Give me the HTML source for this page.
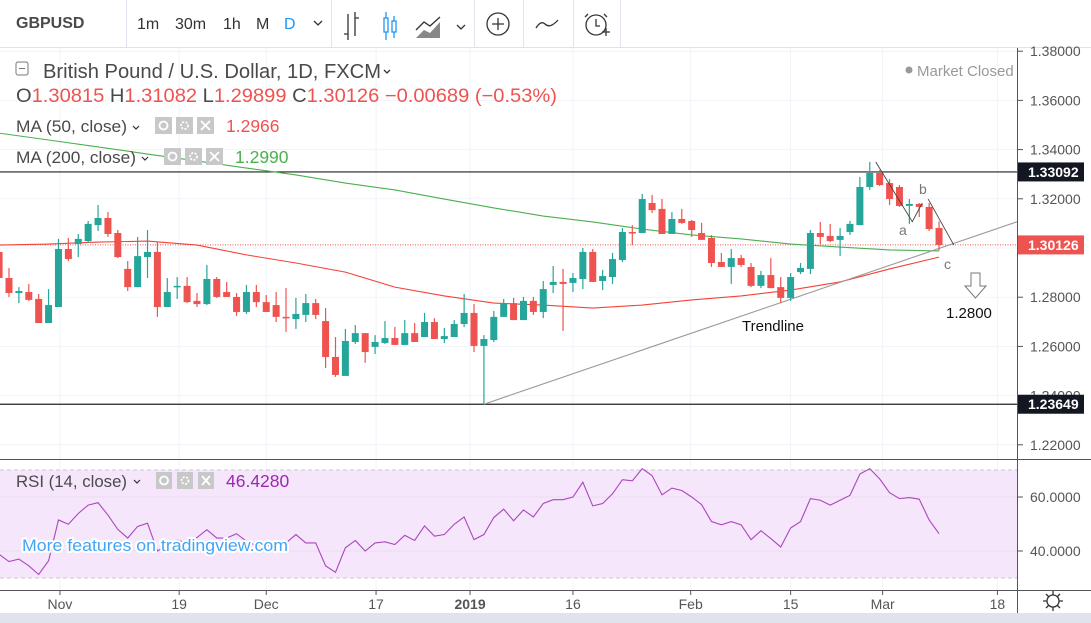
<!DOCTYPE html>
<html><head><meta charset="utf-8">
<style>
html,body{margin:0;padding:0;background:#fff;}
svg{display:block;font-family:"Liberation Sans",sans-serif;}
</style></head>
<body>
<svg id="chart" width="1091" height="623" viewBox="0 0 1091 623" xmlns="http://www.w3.org/2000/svg">
<rect x="0" y="0" width="1091" height="623" fill="#fff"/>
<g id="grid"></g>
<rect id="rsiBand" x="0" y="468" width="1017" height="110" fill="#f5e6fc"/>
<g id="rsiGrid"></g>
<g id="levels"></g>
<g id="mas"></g>
<g id="candles"></g>
<g id="annot"></g>
<g id="rsi"></g>

<g>
<line x1="0" y1="47.5" x2="1091" y2="47.5" stroke="#e0e3eb"/>
<text x="16" y="28" font-size="16" font-weight="bold" fill="#4a4a4a">GBPUSD</text>
<line x1="126.5" y1="0" x2="126.5" y2="47" stroke="#e0e3eb"/>
<text x="137" y="29" font-size="16" fill="#333">1m</text>
<text x="175" y="29" font-size="16" fill="#333">30m</text>
<text x="223" y="29" font-size="16" fill="#333">1h</text>
<text x="256" y="29" font-size="16" fill="#333">M</text>
<text x="284" y="29" font-size="16" fill="#2196f3">D</text>
<path d="M314 21 l4 4 l4 -4" fill="none" stroke="#333" stroke-width="1.3"/>
<line x1="331.5" y1="0" x2="331.5" y2="47" stroke="#e0e3eb"/>
<g stroke="#333" stroke-width="1.3" fill="none"><path d="M348 14 v26 M344 34 h4 M355 12 v24 M355 18 h4"/></g>
<g stroke="#2196f3" stroke-width="1.3" fill="none"><path d="M386 12 v28 M394 16 v22"/><rect x="384" y="18" width="4" height="14" fill="#fff"/><rect x="392" y="21" width="4" height="11" fill="#fff"/></g>
<g><path d="M416 38 L424 30 L430 33 L440 22 L440 38 Z" fill="#888"/><path d="M416 30 L424 22 L430 26 L440 17" fill="none" stroke="#333" stroke-width="1.3"/></g>
<path d="M457 25 l4 4 l4 -4" fill="none" stroke="#333" stroke-width="1.3"/>
<line x1="474.5" y1="0" x2="474.5" y2="47" stroke="#e0e3eb"/>
<g><circle cx="498" cy="24" r="11" fill="none" stroke="#333" stroke-width="1.3"/><path d="M498 18 v12 M492 24 h12" stroke="#333" stroke-width="1.3"/></g>
<line x1="523.5" y1="0" x2="523.5" y2="47" stroke="#e0e3eb"/>
<path d="M536 28 Q541 20 545 24 Q550 29 558 20" fill="none" stroke="#333" stroke-width="1.3"/>
<line x1="573.5" y1="0" x2="573.5" y2="47" stroke="#e0e3eb"/>
<g fill="none" stroke="#333" stroke-width="1.3"><circle cx="596" cy="25" r="10"/><path d="M596 19 v7 h4 M588 14 l-3 3 M604 14 l3 3 M602 32 h8 M606 28 v8"/></g>
<line x1="620.5" y1="0" x2="620.5" y2="47" stroke="#e0e3eb"/>
</g>

<g>
<rect x="16" y="62" width="12" height="13" rx="2" fill="#fff" stroke="#777"/>
<line x1="19" y1="68.5" x2="25" y2="68.5" stroke="#777"/>
<text x="43" y="78" font-size="20" fill="#4a4a4a" textLength="338" lengthAdjust="spacingAndGlyphs">British Pound / U.S. Dollar, 1D, FXCM</text>
<path d="M384 70 l3 3 l3 -3" fill="none" stroke="#333" stroke-width="1.3"/>
<text x="16" y="102" font-size="19.5" fill="#4a4a4a" textLength="541" lengthAdjust="spacingAndGlyphs">O<tspan fill="#ef5350">1.30815</tspan>  H<tspan fill="#ef5350">1.31082</tspan>  L<tspan fill="#ef5350">1.29899</tspan>  C<tspan fill="#ef5350">1.30126</tspan>  <tspan fill="#ef5350">−0.00689 (−0.53%)</tspan></text>
<text x="16" y="132" font-size="17" fill="#4a4a4a" textLength="111" lengthAdjust="spacingAndGlyphs">MA (50, close)</text>
<path d="M133 126 l3 3 l3 -3" fill="none" stroke="#333" stroke-width="1.2"/>
<g fill="#c8c8c8"><rect x="155" y="117" width="17" height="17"/><rect x="176" y="117" width="17" height="17"/><rect x="197" y="117" width="17" height="17"/></g>
<g fill="none" stroke="#fff" stroke-width="1.8"><circle cx="163.5" cy="125.5" r="4"/><circle cx="184.5" cy="125.5" r="3.5" stroke-dasharray="2 1.5"/><path d="M201 121 l9 9 M210 121 l-9 9"/></g>
<text x="226" y="132" font-size="17.5" fill="#ef5350">1.2966</text>
<text x="16" y="163" font-size="17" fill="#4a4a4a" textLength="120" lengthAdjust="spacingAndGlyphs">MA (200, close)</text>
<path d="M142 157 l3 3 l3 -3" fill="none" stroke="#333" stroke-width="1.2"/>
<g fill="#c8c8c8"><rect x="164" y="148" width="17" height="17"/><rect x="185" y="148" width="17" height="17"/><rect x="206" y="148" width="17" height="17"/></g>
<g fill="none" stroke="#fff" stroke-width="1.8"><circle cx="172.5" cy="156.5" r="4"/><circle cx="193.5" cy="156.5" r="3.5" stroke-dasharray="2 1.5"/><path d="M210 152 l9 9 M219 152 l-9 9"/></g>
<text x="235" y="163" font-size="17.5" fill="#4caf50">1.2990</text>
<circle cx="909" cy="70" r="3.5" fill="#999"/>
<text x="917" y="76" font-size="15" fill="#999">Market Closed</text>
</g>

<g id="axes"></g>

<g>
<text x="16" y="487" font-size="17" fill="#4a4a4a" textLength="111" lengthAdjust="spacingAndGlyphs">RSI (14, close)</text>
<path d="M134 480 l3 3 l3 -3" fill="none" stroke="#333" stroke-width="1.2"/>
<g fill="#c8c8c8"><rect x="156" y="472" width="16" height="17"/><rect x="177" y="472" width="16" height="17"/><rect x="198" y="472" width="16" height="17"/></g>
<g fill="none" stroke="#fff" stroke-width="1.8"><circle cx="164" cy="480.5" r="4"/><circle cx="185" cy="480.5" r="3.5" stroke-dasharray="2 1.5"/><path d="M202 476 l8 9 M210 476 l-8 9"/></g>
<text x="226" y="487" font-size="17.5" fill="#9c27b0">46.4280</text>
</g>
<text x="22" y="551" font-size="17" fill="#42a5f5" stroke="#fff" stroke-width="4" paint-order="stroke" stroke-linejoin="round" textLength="266" lengthAdjust="spacingAndGlyphs">More features on tradingview.com</text>

<rect x="0" y="613" width="1091" height="10" fill="#e0e3eb"/>
<g fill="none" stroke="#333" stroke-width="1.3"><circle cx="1053" cy="601" r="6"/><path d="M1053 591 v4 M1053 607 v4 M1043 601 h4 M1059 601 h4 M1046 594 l2.5 2.5 M1057.5 605.5 l2.5 2.5 M1060 594 l-2.5 2.5 M1048.5 605.5 l-2.5 2.5"/></g>
</svg>
<script>
// ---- data ----
const opens  = [1.2984,1.2878,1.2817,1.2821,1.2793,1.2695,1.2760,1.2996,1.3016,1.3028,1.3093,1.3122,1.3061,1.2915,1.2841,1.2963,1.2984,1.2760,1.2841,1.2846,1.2785,1.2772,1.2874,1.2821,1.2801,1.2740,1.2821,1.2780,1.2768,1.2720,1.2711,1.2728,1.2776,1.2703,1.2557,1.2480,1.2618,1.2654,1.2598,1.2614,1.2634,1.2606,1.2654,1.2638,1.2699,1.2630,1.2638,1.2691,1.2736,1.2602,1.2626,1.2720,1.2776,1.2707,1.2785,1.2740,1.2850,1.2862,1.2858,1.2874,1.2984,1.2866,1.2882,1.2951,1.3065,1.3061,1.3183,1.3159,1.3057,1.3118,1.3110,1.3061,1.3041,1.2943,1.2923,1.2959,1.2923,1.2846,1.2890,1.2841,1.2797,1.2902,1.2915,1.3061,1.3049,1.3033,1.3065,1.3093,1.3248,1.3305,1.3264,1.3248,1.3171,1.3179,1.3167,1.30815];
const highs  = [1.3012,1.2919,1.2841,1.2854,1.2813,1.2833,1.3037,1.3041,1.3057,1.3110,1.3175,1.3146,1.3073,1.2947,1.3045,1.3073,1.3024,1.2878,1.2882,1.2882,1.2817,1.2931,1.2882,1.2862,1.2817,1.2850,1.2850,1.2809,1.2821,1.2837,1.2797,1.2813,1.2793,1.2756,1.2638,1.2671,1.2687,1.2654,1.2646,1.2703,1.2679,1.2707,1.2695,1.2736,1.2715,1.2675,1.2707,1.2813,1.2772,1.2646,1.2744,1.2793,1.2797,1.2801,1.2801,1.2866,1.2927,1.2915,1.2898,1.3000,1.2996,1.2911,1.2980,1.3081,1.3093,1.3220,1.3216,1.3199,1.3146,1.3159,1.3114,1.3102,1.3053,1.2980,1.2996,1.2972,1.2939,1.2907,1.2959,1.2882,1.2898,1.2939,1.3073,1.3106,1.3098,1.3081,1.3110,1.3289,1.3350,1.3317,1.3280,1.3256,1.3199,1.3183,1.3183,1.31082];
const lows   = [1.2862,1.2801,1.2776,1.2785,1.2695,1.2695,1.2760,1.2947,1.2963,1.3020,1.3069,1.3045,1.2959,1.2825,1.2841,1.2878,1.2720,1.2760,1.2793,1.2776,1.2760,1.2768,1.2797,1.2801,1.2724,1.2732,1.2760,1.2740,1.2699,1.2659,1.2671,1.2699,1.2711,1.2512,1.2476,1.2480,1.2610,1.2533,1.2569,1.2610,1.2606,1.2606,1.2618,1.2638,1.2630,1.2614,1.2638,1.2679,1.2577,1.2365,1.2618,1.2720,1.2707,1.2707,1.2728,1.2715,1.2817,1.2663,1.2821,1.2833,1.2862,1.2829,1.2854,1.2943,1.3012,1.3061,1.3142,1.3057,1.3057,1.3098,1.3045,1.3033,1.2923,1.2923,1.2854,1.2923,1.2841,1.2837,1.2837,1.2776,1.2785,1.2894,1.2894,1.3016,1.3024,1.2967,1.3053,1.3093,1.3236,1.3252,1.3175,1.3167,1.3098,1.3126,1.3069,1.29899];
const closes = [1.2878,1.2817,1.2825,1.2789,1.2695,1.2768,1.2996,1.2955,1.3037,1.3098,1.3122,1.3057,1.2963,1.2841,1.2967,1.2984,1.2760,1.2821,1.2846,1.2780,1.2772,1.2874,1.2801,1.2801,1.2740,1.2821,1.2780,1.2740,1.2720,1.2715,1.2732,1.2776,1.2728,1.2557,1.2484,1.2622,1.2654,1.2577,1.2618,1.2634,1.2606,1.2654,1.2618,1.2699,1.2630,1.2642,1.2691,1.2736,1.2602,1.2630,1.2720,1.2776,1.2707,1.2785,1.2740,1.2833,1.2862,1.2854,1.2878,1.2984,1.2862,1.2886,1.2955,1.3065,1.3061,1.3199,1.3154,1.3057,1.3118,1.3102,1.3073,1.3033,1.2939,1.2923,1.2959,1.2931,1.2846,1.2890,1.2837,1.2797,1.2882,1.2919,1.3061,1.3045,1.3028,1.3049,1.3098,1.3248,1.3305,1.3256,1.3199,1.3171,1.3179,1.3167,1.3077,1.30126];
const maIdx   = [0,5,10,15,20,25,30,35,40,45,50,55,60,65,70,75,80,85,90,95];
const ma50    = [1.3012,1.3016,1.3024,1.3028,1.3012,1.2972,1.2939,1.2902,1.2841,1.2805,1.2776,1.2768,1.2756,1.2768,1.2789,1.2805,1.2829,1.2862,1.2915,1.2963];
const ma200   = [1.3467,1.3439,1.3411,1.3382,1.3354,1.3325,1.3297,1.3264,1.3236,1.3199,1.3163,1.3130,1.3106,1.3077,1.3053,1.3037,1.3016,1.3004,1.2992,1.2988];
const rsiVals = [38.8,36.1,37,34.5,31.3,36.4,51.5,49.9,53.9,57,57.9,53.3,48,44.8,49.1,50.3,40,42,44,43,45,47.9,44.8,44.8,46.4,43.6,42,42,41.8,43,46.1,43,43,34.5,32.1,41.2,43.9,40,43,43.4,42.4,45.8,43.9,49.3,45.5,46.1,49.9,52.6,44.2,46.1,52.4,55.5,51.2,55.2,52.6,57.6,59,59,60,65.5,56.7,57.6,61.2,66.4,66,70.5,67.9,60.8,63.3,62.4,60,57.2,50.9,49.7,50.9,49.7,44.2,47.5,44.6,41.5,48.5,50.9,59.4,58.8,57,58.8,60.6,68.5,70.5,66.7,61.6,59.4,59.8,59.2,51.5,46.4];
const priceTicks = [1.38,1.36,1.34,1.32,1.30,1.28,1.26,1.24,1.22];
const rsiTicks = [60,40];
const timeLabels = ["Nov","19","Dec","17","2019","16","Feb","15","Mar","18"];
const timeIdx = [6.15,18.2,27,38.1,47.6,58,69.9,80,89.3,100.9];
const resistance = 1.33092, support = 1.23649, lastPrice = 1.30126;
const trendA = [49,1.2365], trendB = [79,1.2778];

// ---- scales ----
const X = i => -0.9 + i*9.894;
const Y = p => 248 - (p-1.30)*2460;
const RY = v => 524 - (v-50)*2.7;
const NS="http://www.w3.org/2000/svg";
function mk(tag, attrs, parent){const e=document.createElementNS(NS,tag);for(const k in attrs)e.setAttribute(k,attrs[k]);parent.appendChild(e);return e;}
const G = id=>document.getElementById(id);

priceTicks.forEach(p=>{const l=mk('line',{x1:0,x2:1017,y1:Y(p),y2:Y(p),stroke:'#f0f3fa'},G('grid'));

});
timeIdx.forEach(i=>{const l=mk('line',{x1:X(i),x2:X(i),y1:48,y2:590,stroke:'#f0f3fa'},G('grid'));

});
rsiTicks.forEach(v=>{const l=mk('line',{x1:0,x2:1017,y1:RY(v),y2:RY(v),stroke:'#eadcf2'},G('rsiGrid'));

});
[70,30].forEach(v=>{const l=mk('line',{x1:0,x2:1017,y1:RY(v),y2:RY(v),stroke:'#c8c8c8','stroke-dasharray':'4 3'},G('rsiGrid'));

});
G('rsiBand').setAttribute('y',RY(70));G('rsiBand').setAttribute('height',RY(30)-RY(70));

[[resistance,'#222','resistance-line'],[support,'#222','support-line']].forEach(([p,c,n])=>{
 const l=mk('line',{x1:0,x2:1017,y1:Y(p),y2:Y(p),stroke:c,'stroke-width':1.2},G('levels'));
 
 });
const lp=mk('line',{x1:0,x2:1017,y1:Y(lastPrice),y2:Y(lastPrice),stroke:'#ef5350','stroke-dasharray':'1 1.5'},G('levels'));



function poly(vals, col, name){
 const pts=vals.map((v,k)=>X(maIdx[k])+','+Y(v)).join(' ');
 const e=mk('polyline',{points:pts,fill:'none',stroke:col,'stroke-width':1.1},G('mas'));
 
 }
poly(ma200,'#4caf50','ma200-line');
poly(ma50,'#f44336','ma50-line');

const slope=(trendB[1]-trendA[1])/(X(trendB[0])-X(trendA[0]));
const tl=mk('line',{x1:X(trendA[0]),y1:Y(trendA[1]),x2:1017,y2:Y(trendA[1]+slope*(1017-X(trendA[0]))),stroke:'#999','stroke-width':1.1},G('mas'));



opens.forEach((o,i)=>{
 const c=closes[i],up=c>=o,col=up?'#26a69a':'#ef5350',x=X(i);
 const g=mk('g',{},G('candles'));
 
 
 mk('line',{x1:x,x2:x,y1:Y(highs[i]),y2:Y(lows[i]),stroke:col,'stroke-width':1.2},g);
 const t=Y(Math.max(o,c)),b=Y(Math.min(o,c));
 mk('rect',{x:x-3.5,y:t,width:7,height:Math.max(1.5,b-t),fill:col},g);
});

const A=G('annot');
function ap(pts){return pts.map(([i,p])=>X(i)+','+Y(p)).join(' ');}
const z=mk('polyline',{points:ap([[88.6,1.3350],[92.3,1.3107],[93.3,1.3183]]),fill:'none',stroke:'#444','stroke-width':0.9},A);


const z2=mk('polyline',{points:ap([[93.9,1.3199],[96.5,1.3012]]),fill:'none',stroke:'#444','stroke-width':0.9},A);


[['a',899,235],['b',919,194],['c',944,269]].forEach(([t,x,y])=>{const e=mk('text',{x:x,y:y,'font-size':14,fill:'#777'},A);e.textContent=t;

});
const arr=mk('path',{d:'M971 273 h9 v13 h6 l-10.5 12 l-10.5 -12 h6 z',fill:'#fff',stroke:'#777'},A);


const tg=mk('text',{x:946,y:318,'font-size':15,fill:'#111'},A);tg.textContent='1.2800';


const tt=mk('text',{x:742,y:331,'font-size':15,fill:'#111'},A);tt.textContent='Trendline';



const rl=mk('polyline',{points:rsiVals.map((v,i)=>X(i)+','+RY(v)).join(' '),fill:'none',stroke:'#ab47bc','stroke-width':1.1},G('rsi'));



const AX=G('axes');
mk('rect',{x:1018,y:48,width:73,height:565,fill:'#fff'},AX);
mk('line',{x1:1017.5,x2:1017.5,y1:48,y2:613,stroke:'#555'},AX);
mk('line',{x1:0,x2:1091,y1:459.5,y2:459.5,stroke:'#555'},AX);
mk('line',{x1:0,x2:1091,y1:590.5,y2:590.5,stroke:'#555'},AX);
priceTicks.forEach(p=>{mk('line',{x1:1018,x2:1023,y1:Y(p),y2:Y(p),stroke:'#555'},AX);
 const t=mk('text',{x:1030,y:Y(p)+5,'font-size':14,fill:'#555'},AX);t.textContent=p.toFixed(5);
 
 });
rsiTicks.forEach(v=>{mk('line',{x1:1018,x2:1023,y1:RY(v),y2:RY(v),stroke:'#555'},AX);
 const t=mk('text',{x:1030,y:RY(v)+5,'font-size':14,fill:'#555'},AX);t.textContent=v.toFixed(4);
 
 });
[[resistance,'#131722'],[lastPrice,'#ef5350'],[support,'#131722']].forEach(([p,c])=>{
 mk('rect',{x:1018,y:Y(p)-9.5,width:66,height:19,fill:c},AX);
 const t=mk('text',{x:1028,y:Y(p)+5,'font-size':14,fill:'#fff','font-weight':'bold'},AX);t.textContent=p.toFixed(5);
 
 });
timeLabels.forEach((s,k)=>{mk('line',{x1:X(timeIdx[k]),x2:X(timeIdx[k]),y1:591,y2:595,stroke:'#555'},AX);
 const t=mk('text',{x:X(timeIdx[k]),y:609,'font-size':14,fill:'#555','text-anchor':'middle','font-weight':s==='2019'?'bold':'normal'},AX);t.textContent=s;
 
 });
</script>
</body></html>
